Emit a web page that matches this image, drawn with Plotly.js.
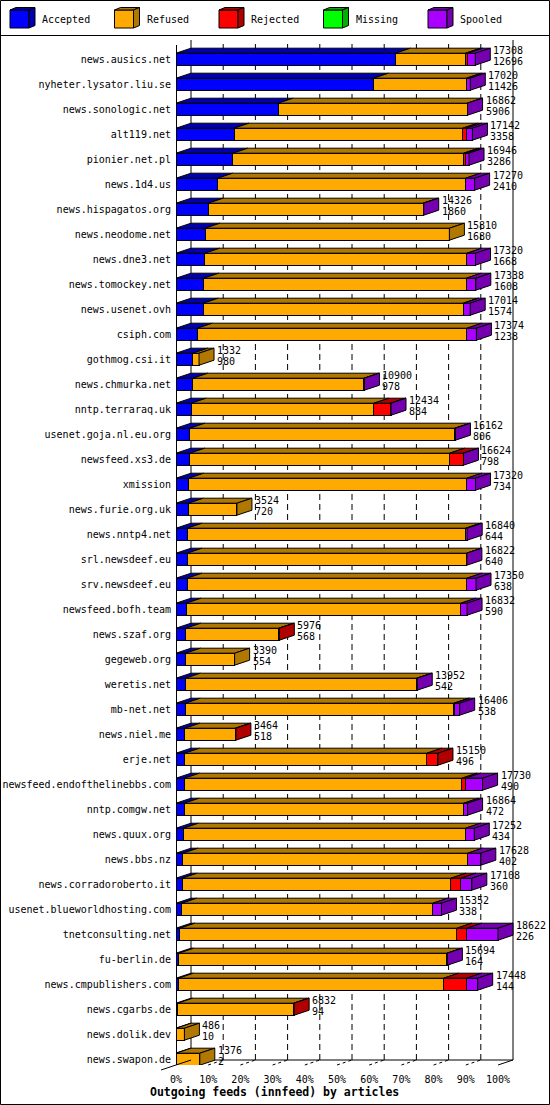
<!DOCTYPE html>
<html>
<head>
<meta charset="utf-8">
<script src="https://cdn.plot.ly/plotly-3.0.1.min.js"></script>
<style>
  html, body { margin: 0; padding: 0; background: #ffffff; }
  #chart { width: 550px; height: 1105px; }
</style>
</head>
<body>
<div id="chart"></div>
<script>
// ---------------- data ----------------
const hosts = [
  "news.ausics.net", "nyheter.lysator.liu.se", "news.sonologic.net", "alt119.net",
  "pionier.net.pl", "news.1d4.us", "news.hispagatos.org", "news.neodome.net",
  "news.dne3.net", "news.tomockey.net", "news.usenet.ovh", "csiph.com",
  "gothmog.csi.it", "news.chmurka.net", "nntp.terraraq.uk", "usenet.goja.nl.eu.org",
  "newsfeed.xs3.de", "xmission", "news.furie.org.uk", "news.nntp4.net",
  "srl.newsdeef.eu", "srv.newsdeef.eu", "newsfeed.bofh.team", "news.szaf.org",
  "gegeweb.org", "weretis.net", "mb-net.net", "news.niel.me",
  "erje.net", "newsfeed.endofthelinebbs.com", "nntp.comgw.net", "news.quux.org",
  "news.bbs.nz", "news.corradoroberto.it", "usenet.blueworldhosting.com", "tnetconsulting.net",
  "fu-berlin.de", "news.cmpublishers.com", "news.cgarbs.de", "news.dolik.dev",
  "news.swapon.de"
];
const totals = [
  17308, 17020, 16862, 17142, 16946, 17270, 14326, 15810, 17320, 17338, 17014, 17374,
  1332, 10900, 12434, 16162, 16624, 17320, 3524, 16840, 16822, 17350, 16832, 5976,
  3390, 13952, 16406, 3464, 15150, 17730, 16864, 17252, 17628, 17108, 15352, 18622,
  15694, 17448, 6832, 486, 1376
];
const accepted = [
  12696, 11426, 5906, 3358, 3286, 2410, 1860, 1680, 1668, 1608, 1574, 1238,
  980, 978, 884, 806, 798, 734, 720, 644, 640, 638, 590, 568,
  554, 542, 538, 518, 496, 490, 472, 434, 402, 360, 338, 226,
  164, 144, 94, 10, 2
];
const refused = [
  4054, 5364, 10926, 13218, 13348, 14340, 12426, 14130, 15159, 15180, 15040, 15589,
  352, 9892, 10565, 15326, 15026, 16093, 2804, 16106, 16162, 16189, 15890, 5378,
  2836, 13380, 15538, 2916, 14018, 16048, 16162, 16316, 16463, 15541, 14522, 16022,
  15500, 15333, 6708, 476, 1374
];
const rejected = [
  134, 0, 0, 232, 116, 0, 0, 0, 0, 0, 20, 0,
  0, 0, 965, 0, 780, 0, 0, 0, 0, 0, 0, 30,
  0, 0, 40, 30, 636, 212, 0, 0, 0, 579, 0, 579,
  0, 1331, 30, 0, 0
];
const missing = [
  0, 0, 0, 0, 0, 0, 0, 0, 0, 0, 0, 0,
  0, 0, 0, 0, 0, 0, 0, 0, 0, 0, 0, 0,
  0, 0, 0, 0, 0, 0, 0, 0, 0, 0, 0, 0,
  0, 0, 0, 0, 0
];
const spooled = [
  424, 230, 30, 334, 196, 520, 40, 0, 493, 550, 380, 547,
  0, 30, 20, 30, 20, 493, 0, 90, 20, 523, 352, 0,
  0, 30, 290, 0, 0, 980, 230, 502, 763, 628, 492, 1795,
  30, 640, 0, 0, 0
];
const seriesNames = ["Accepted", "Refused", "Rejected", "Missing", "Spooled"];
const pctTicks = [0, 10, 20, 30, 40, 50, 60, 70, 80, 90, 100];
const xTitle = "Outgoing feeds (innfeed) by articles";

// ---------------- styling / geometry ----------------
const frontColors = ["#0000ff", "#ffaa00", "#ff0000", "#00ff00", "#aa00ff"];
const darkColors  = ["#0000b0", "#b07800", "#b00000", "#00b000", "#7500b0"];
const FONT = "DejaVu Sans Mono, monospace";

const W = 550, H = 1105;
const L = 176, R = 550, T = 40, B = 1065;
const PW = R - L, PH = B - T;
const FULL = 322;                 // px of the front face for 100 %
const ROW = 25;                   // px per row
const FIRST = 59.2;               // px of first row centre
const DEPTH_X = 15, DEPTH_Y = 5;  // px of the 3-D depth
const HALF = 6;                   // px half height of a bar front

const series = [accepted, refused, rejected, missing, spooled];
const maxTotal = Math.max.apply(null, totals);
const xMax = maxTotal * PW / FULL;
const dX = DEPTH_X * maxTotal / FULL;
const dY = DEPTH_Y / ROW;
const hh = HALF / ROW;
const yTop = -(FIRST - T) / ROW;
const yBot = (B - FIRST) / ROW;
const idx = hosts.map((_, i) => i);

const px = p => (p - L) / PW;
const py = p => (B - p) / PH;

// ---------------- traces ----------------
const traces = [];
// front faces: stacked horizontal bars
series.forEach((vals, s) => {
  traces.push({
    type: "bar", orientation: "h", name: seriesNames[s],
    x: vals.map(v => (v > 0 ? v : null)), y: idx, width: 2 * hh,
    marker: { color: frontColors[s], line: { color: "#000", width: 1 } },
    hoverinfo: "skip", showlegend: false
  });
});
// top faces
series.forEach((vals, s) => {
  const xs = [], ys = [];
  vals.forEach((v, k) => {
    if (!(v > 0)) return;
    let start = 0;
    for (let j = 0; j < s; j++) start += series[j][k];
    const end = start + v;
    const yf = k - hh, yb = k - hh - dY;
    xs.push(start, end, end + dX, start + dX, start, null);
    ys.push(yf, yf, yb, yb, yf, null);
  });
  if (xs.length) traces.push({
    type: "scatter", mode: "lines", x: xs, y: ys, fill: "toself",
    fillcolor: darkColors[s], line: { color: "#000", width: 1 },
    hoverinfo: "skip", showlegend: false
  });
});
// side faces (colour of the last non-empty segment)
const sideX = seriesNames.map(() => []), sideY = seriesNames.map(() => []);
idx.forEach(k => {
  let last = 0, end = 0;
  series.forEach((vals, s) => { if (vals[k] > 0) { last = s; } end += vals[k]; });
  sideX[last].push(end, end + dX, end + dX, end, end, null);
  sideY[last].push(k - hh, k - hh - dY, k + hh - dY, k + hh, k - hh, null);
});
sideX.forEach((xs, s) => {
  if (xs.length) traces.push({
    type: "scatter", mode: "lines", x: xs, y: sideY[s], fill: "toself",
    fillcolor: darkColors[s], line: { color: "#000", width: 1 },
    hoverinfo: "skip", showlegend: false
  });
});

// ---------------- shapes ----------------
const shapes = [];
const line = (x0, y0, x1, y1, xref, yref, extra) =>
  Object.assign({ type: "line", x0, y0, x1, y1, xref, yref,
                  line: { color: "#000", width: 1 }, layer: "below" }, extra || {});
// back gridlines
pctTicks.forEach(p => {
  const xv = maxTotal * p / 100 + dX;
  if (p > 0 && p < 100) {
    shapes.push(line(xv, py(1060), xv, py(T), "x", "paper", { line: { color: "#000", width: 1, dash: "6px,4px" } }));
    const xf = maxTotal * p / 100;
    shapes.push(line(xf, py(B), xf + dX, py(1060), "x", "paper", { line: { color: "#000", width: 1, dash: "3px,3px" } }));
  }
});
// back walls / floor
shapes.push(line(dX, py(1060), dX, py(T), "x", "paper"));
shapes.push(line(maxTotal + dX, py(1060), maxTotal + dX, py(T), "x", "paper"));
shapes.push(line(dX, py(1060), maxTotal + dX, py(1060), "x", "paper"));
shapes.push(line(maxTotal, py(B), maxTotal + dX, py(1060), "x", "paper"));
// front-left axis & left floor edge
shapes.push(line(px(176.5), py(45), px(176.5), py(B), "paper", "paper", { layer: "above" }));
shapes.push(line(px(161), py(1070), px(191), py(1060), "paper", "paper", { layer: "above" }));
// outer frame + legend separator
shapes.push({ type: "rect", xref: "paper", yref: "paper", x0: px(0.5), x1: px(549.5),
  y0: py(1104.5), y1: py(0.5), line: { color: "#000", width: 1 }, layer: "above" });
shapes.push(line(px(0), py(35.5), px(550), py(35.5), "paper", "paper", { layer: "above" }));

// legend cubes
const annotations = [];
seriesNames.forEach((nm, i) => {
  const x0 = 10 + 104.5 * i, x1 = x0 + 19, yt = 10, yb = 28, ddx = 6, ddy = 2.5;
  const P = (x, y) => px(x) + "," + py(y);
  shapes.push({ type: "path", xref: "paper", yref: "paper", layer: "above",
    path: "M" + P(x0, yt) + " L" + P(x1, yt) + " L" + P(x1, yb) + " L" + P(x0, yb) + " Z",
    fillcolor: frontColors[i], line: { color: "#000", width: 1 } });
  shapes.push({ type: "path", xref: "paper", yref: "paper", layer: "above",
    path: "M" + P(x0, yt) + " L" + P(x1, yt) + " L" + P(x1 + ddx, yt - ddy) + " L" + P(x0 + ddx, yt - ddy) + " Z",
    fillcolor: darkColors[i], line: { color: "#000", width: 1 } });
  shapes.push({ type: "path", xref: "paper", yref: "paper", layer: "above",
    path: "M" + P(x1, yt) + " L" + P(x1 + ddx, yt - ddy) + " L" + P(x1 + ddx, yb - ddy) + " L" + P(x1, yb) + " Z",
    fillcolor: darkColors[i], line: { color: "#000", width: 1 } });
  annotations.push({ xref: "paper", yref: "paper", x: px(x0 + 30), y: py(19.5),
    xanchor: "left", yanchor: "middle", showarrow: false, text: nm,
    font: { family: FONT, size: 10, color: "#000" } });
});

// value labels
idx.forEach(k => {
  const xe = totals[k] + dX;
  annotations.push({ x: xe, y: k, xref: "x", yref: "y", xanchor: "left", yanchor: "middle",
    xshift: 1, yshift: 9, showarrow: false, text: String(totals[k]),
    font: { family: FONT, size: 10, color: "#000" } });
  annotations.push({ x: xe, y: k, xref: "x", yref: "y", xanchor: "left", yanchor: "middle",
    xshift: 1, yshift: -2, showarrow: false, text: String(accepted[k]),
    font: { family: FONT, size: 10, color: "#000" } });
});
// axis title
annotations.push({ xref: "paper", yref: "paper", x: px(274.5), y: py(1092), xanchor: "center",
  yanchor: "middle", showarrow: false, text: xTitle,
  font: { family: FONT, size: 11.5, color: "#000", weight: "bold" } });

const layout = {
  width: W, height: H,
  margin: { l: L, r: W - R, t: T, b: H - B, pad: 0 },
  paper_bgcolor: "#ffffff", plot_bgcolor: "rgba(0,0,0,0)",
  barmode: "stack", showlegend: false, hovermode: false,
  xaxis: {
    range: [0, xMax], fixedrange: true,
    tickvals: pctTicks.map(p => maxTotal * p / 100),
    ticktext: pctTicks.map(p => p + "%"),
    ticks: "outside", ticklen: 5, tickcolor: "rgba(0,0,0,0)",
    showgrid: false, zeroline: false, showline: false,
    tickfont: { family: FONT, size: 10, color: "#000" }, automargin: false
  },
  yaxis: {
    range: [yBot, yTop], fixedrange: true,
    tickvals: idx, ticktext: hosts,
    ticks: "outside", ticklen: 2, tickcolor: "rgba(0,0,0,0)",
    showgrid: false, zeroline: false, showline: false,
    tickfont: { family: FONT, size: 10, color: "#000" }, automargin: false
  },
  shapes: shapes,
  annotations: annotations
};

Plotly.newPlot("chart", traces, layout, { staticPlot: true, displayModeBar: false });
</script>
</body>
</html>
